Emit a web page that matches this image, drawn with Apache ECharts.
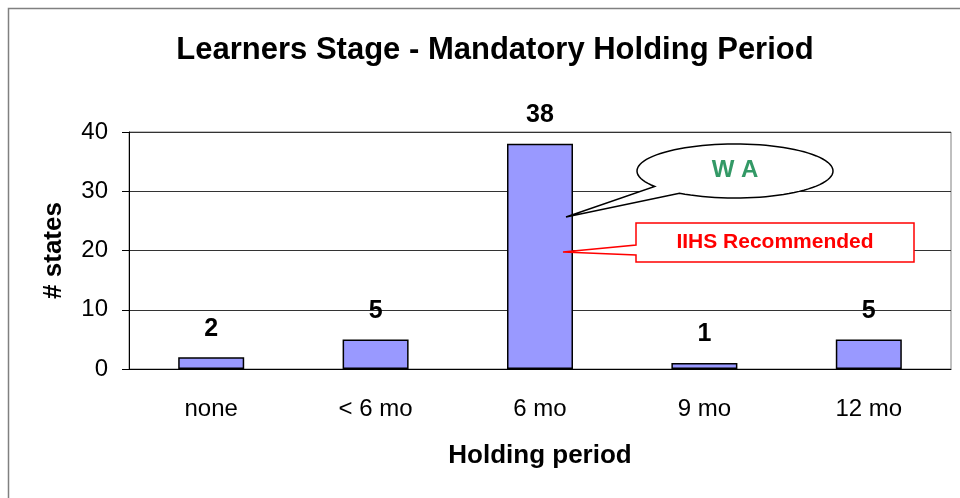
<!DOCTYPE html>
<html>
<head>
<meta charset="utf-8">
<script src="https://cdn.jsdelivr.net/npm/echarts@6/dist/echarts.min.js"></script>
<style>
  html, body { margin: 0; padding: 0; background: #fff; }
  #chart { width: 960px; height: 498px; }
</style>
</head>
<body>
<div id="chart"></div>
<script>
// data
var categories = ['none', '< 6 mo', '6 mo', '9 mo', '12 mo'];
var statesCount = [2, 5, 38, 1, 5];
var yTicks = [0, 10, 20, 30, 40];

var font = '"Liberation Sans", Arial, sans-serif';

var chart = echarts.init(document.getElementById('chart'));

// outline of the WA speech bubble: ellipse + tail
function bubblePoints(cx, cy, rx, ry, a0, a1, tip) {
    var pts = [tip];
    var steps = 90;
    for (var i = 0; i <= steps; i++) {
        var a = (a0 + (a1 - a0) * i / steps) * Math.PI / 180;
        pts.push([cx + rx * Math.cos(a), cy + ry * Math.sin(a)]);
    }
    return pts;
}
var waBubble = bubblePoints(735, 171, 98, 27, 145, 484.5, [566, 217]);

var option = {
    backgroundColor: '#fff',
    animation: false,
    title: {
        text: 'Learners Stage - Mandatory Holding Period',
        left: 490,
        top: 30,
        textAlign: 'center',
        textStyle: { fontFamily: font, fontSize: 31, fontWeight: 'bold', color: '#000' }
    },
    grid: {
        left: 129, right: 9, top: 132, bottom: 129,
        show: true, borderColor: '#808080', borderWidth: 1
    },
    xAxis: {
        type: 'category',
        data: categories,
        name: 'Holding period',
        nameLocation: 'middle',
        nameGap: 74,
        nameTextStyle: { fontFamily: font, fontSize: 26, fontWeight: 'bold', color: '#000' },
        axisLine: { lineStyle: { color: '#000', width: 1 } },
        axisTick: { length: 7, lineStyle: { color: '#000' } },
        axisLabel: { fontFamily: font, fontSize: 24, color: '#000', margin: 28 }
    },
    yAxis: {
        type: 'value',
        min: yTicks[0],
        max: yTicks[yTicks.length - 1],
        interval: 10,
        name: '# states',
        nameLocation: 'middle',
        nameGap: 62,
        nameTextStyle: { fontFamily: font, fontSize: 26, fontWeight: 'bold', color: '#000' },
        axisLine: { show: true, lineStyle: { color: '#000', width: 1 } },
        axisTick: { show: true, length: 7, lineStyle: { color: '#000' } },
        axisLabel: { fontFamily: font, fontSize: 24, color: '#000', margin: 21 },
        splitLine: { lineStyle: { color: '#333', width: 1 } }
    },
    series: [{
        type: 'bar',
        data: statesCount,
        barWidth: 66,
        itemStyle: { color: '#9999FF', borderColor: '#000', borderWidth: 1.5 },
        label: {
            show: true,
            position: 'top',
            distance: 16,
            fontFamily: font, fontSize: 25, fontWeight: 'bold', color: '#000'
        }
    }],
    graphic: [
        // outer frame
        {
            type: 'rect', silent: true, z: 0,
            shape: { x: 8.5, y: 8.5, width: 960, height: 500 },
            style: { fill: null, stroke: '#808080', lineWidth: 1.5 }
        },
        // WA speech bubble
        {
            type: 'polygon', z: 10,
            shape: { points: waBubble },
            style: { fill: '#fff', stroke: '#000', lineWidth: 1.5 }
        },
        {
            type: 'text', z: 13,
            style: {
                x: 735, y: 170, text: 'W A', align: 'center', verticalAlign: 'middle',
                font: 'bold 24px ' + font, fill: '#339966'
            }
        },
        // IIHS callout box
        {
            type: 'polygon', z: 10,
            shape: {
                points: [[636, 223], [914, 223], [914, 262], [636, 262], [636, 255], [563, 252], [636, 245]]
            },
            style: { fill: '#fff', stroke: '#FF0000', lineWidth: 1.5 }
        },
        {
            type: 'text', z: 13,
            style: {
                x: 775, y: 242, text: 'IIHS Recommended', align: 'center', verticalAlign: 'middle',
                font: 'bold 21px ' + font, fill: '#FF0000'
            }
        }
    ]
};

chart.setOption(option);
</script>
</body>
</html>
